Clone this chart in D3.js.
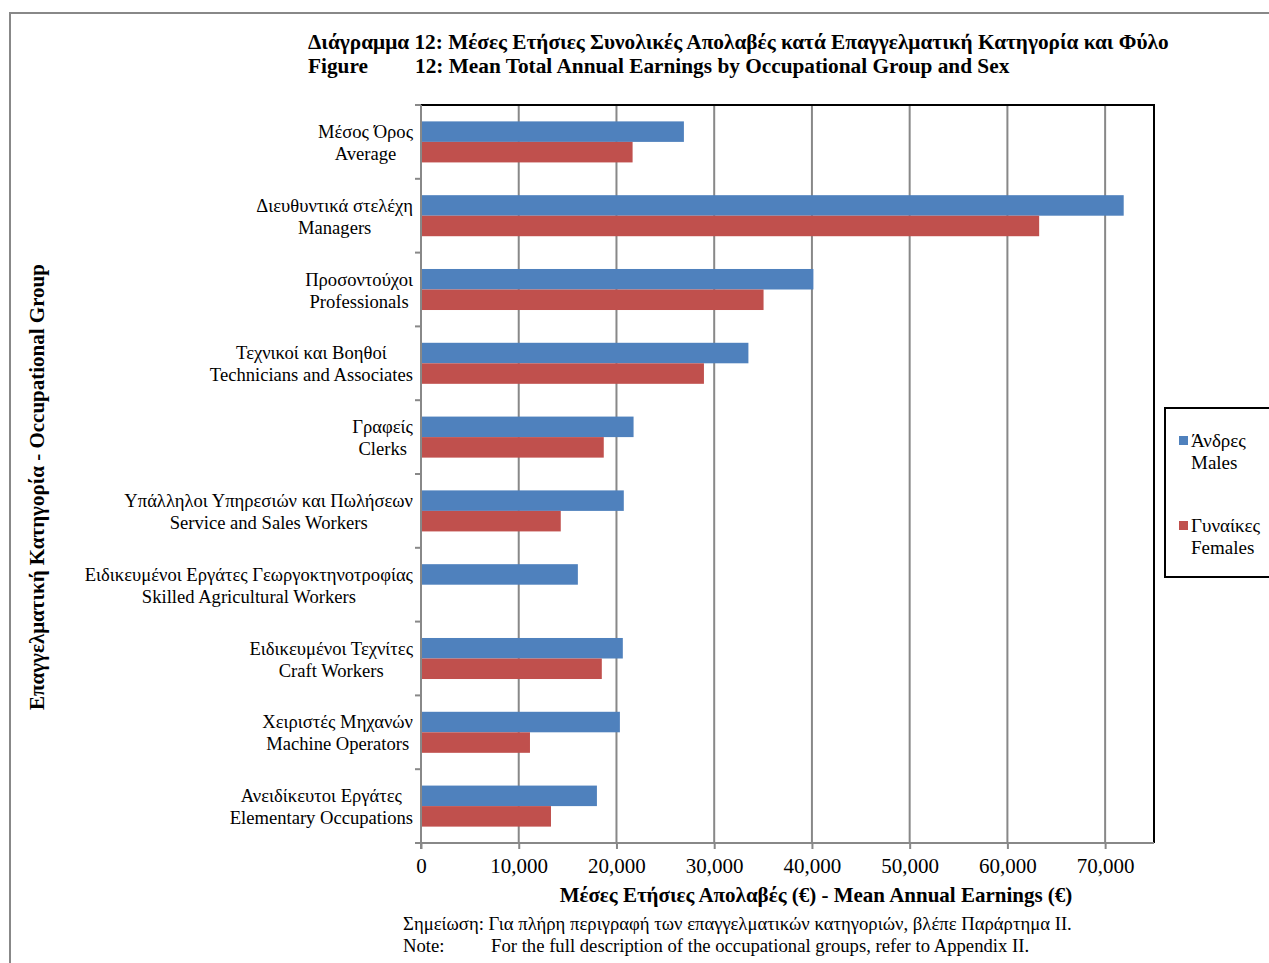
<!DOCTYPE html>
<html>
<head>
<meta charset="utf-8">
<script src="https://cdn.jsdelivr.net/npm/d3@7"></script>
<style>
  body { margin: 0; background: #fff; }
  text { font-family: "Liberation Serif", "Times New Roman", serif; fill: #000; }
  .title { font-weight: bold; font-size: 21.3px; }
  .axis-title { font-weight: bold; font-size: 21px; }
</style>
</head>
<body>
<svg width="1269" height="963"></svg>
<script>
  // data
  var categoriesGr = ["Μέσος Όρος", "Διευθυντικά στελέχη", "Προσοντούχοι", "Τεχνικοί και Βοηθοί",
    "Γραφείς", "Υπάλληλοι Υπηρεσιών και Πωλήσεων", "Ειδικευμένοι Εργάτες Γεωργοκτηνοτροφίας",
    "Ειδικευμένοι Τεχνίτες", "Χειριστές Μηχανών", "Ανειδίκευτοι Εργάτες"];
  var categoriesEn = ["Average", "Managers", "Professionals", "Technicians and Associates",
    "Clerks", "Service and Sales Workers", "Skilled Agricultural Workers",
    "Craft Workers", "Machine Operators", "Elementary Occupations"];
  var males = [26900, 71900, 40150, 33500, 21750, 20750, 16050, 20650, 20350, 18000];
  var females = [21650, 63250, 35050, 28950, 18700, 14300, null, 18500, 11150, 13300];
  var xTicks = [0, 10000, 20000, 30000, 40000, 50000, 60000, 70000];
  var seriesNames = [["Άνδρες", "Males"], ["Γυναίκες", "Females"]];
  var seriesColors = ["#4F81BD", "#C0504D"];

  var svg = d3.select("svg");

  // outer frame
  svg.append("rect")
    .attr("x", 10).attr("y", 13)
    .attr("width", 1300).attr("height", 1000)
    .attr("fill", "none").attr("stroke", "#888").attr("stroke-width", 2);

  var margin = { top: 105, left: 421, right: 1154, bottom: 843 };

  var xScale = d3.scaleLinear()
    .domain([0, 75000])
    .range([margin.left, margin.right]);

  var yScale = d3.scaleBand()
    .domain(d3.range(categoriesGr.length))
    .range([margin.top, margin.bottom])
    .paddingInner(0.444)
    .paddingOuter(0.222);

  var bar = yScale.bandwidth() / 2;

  // gridlines
  svg.append("g").selectAll("line")
    .data(xTicks.slice(1))
    .enter().append("line")
    .attr("x1", function (d) { return xScale(d); })
    .attr("x2", function (d) { return xScale(d); })
    .attr("y1", margin.top).attr("y2", margin.bottom)
    .attr("stroke", "#888").attr("stroke-width", 2);

  // plot border top / right
  svg.append("path")
    .attr("d", "M" + margin.left + "," + margin.top + "H" + margin.right + "V" + margin.bottom)
    .attr("fill", "none").attr("stroke", "#000").attr("stroke-width", 2);

  // bars
  var groups = svg.append("g").selectAll("g")
    .data(d3.range(categoriesGr.length))
    .enter().append("g");

  groups.append("rect")
    .attr("x", xScale(0))
    .attr("y", function (i) { return yScale(i); })
    .attr("width", function (i) { return xScale(males[i]) - xScale(0); })
    .attr("height", bar)
    .attr("fill", seriesColors[0]);

  groups.filter(function (i) { return females[i] != null; })
    .append("rect")
    .attr("x", xScale(0))
    .attr("y", function (i) { return yScale(i) + bar; })
    .attr("width", function (i) { return xScale(females[i]) - xScale(0); })
    .attr("height", bar)
    .attr("fill", seriesColors[1]);

  // x axis
  var xAxis = d3.axisBottom(xScale)
    .tickValues(xTicks)
    .tickSize(6)
    .tickPadding(9)
    .tickFormat(d3.format(","));

  var xAxisGroup = svg.append("g")
    .attr("transform", "translate(0," + margin.bottom + ")")
    .call(xAxis);
  xAxisGroup.select(".domain").attr("stroke", "#888").attr("stroke-width", 2)
    .attr("d", "M" + margin.left + ",0H" + margin.right);
  xAxisGroup.selectAll(".tick line").attr("stroke", "#888").attr("stroke-width", 2);
  xAxisGroup.selectAll(".tick text")
    .style("font-family", "Liberation Serif").style("font-size", "21px").attr("fill", "#000");

  // y axis (category boundaries)
  var boundaries = d3.range(categoriesGr.length + 1).map(function (i) {
    return margin.top + i * (margin.bottom - margin.top) / categoriesGr.length;
  });
  var yAxisGroup = svg.append("g");
  yAxisGroup.append("line")
    .attr("x1", margin.left).attr("x2", margin.left)
    .attr("y1", margin.top).attr("y2", margin.bottom + 6)
    .attr("stroke", "#888").attr("stroke-width", 2);
  yAxisGroup.selectAll(".yt")
    .data(boundaries)
    .enter().append("line")
    .attr("x1", margin.left - 6).attr("x2", margin.left)
    .attr("y1", function (d) { return d; }).attr("y2", function (d) { return d; })
    .attr("stroke", "#888").attr("stroke-width", 2);

  // category labels, two lines centred on each other, right edge at 413
  groups.each(function (i) {
    var cy = yScale(i) + bar;
    var g = d3.select(this).append("g");
    var t1 = g.append("text").text(categoriesGr[i])
      .attr("y", cy - 4).style("font-size", "18.6px").attr("text-anchor", "middle");
    var t2 = g.append("text").text(categoriesEn[i])
      .attr("y", cy + 18).style("font-size", "18.6px").attr("text-anchor", "middle");
    var w = Math.max(t1.node().getComputedTextLength(), t2.node().getComputedTextLength());
    t1.attr("x", 413 - w / 2);
    t2.attr("x", 413 - w / 2);
  });

  // title
  var title = svg.append("g").attr("class", "title");
  title.append("text").attr("x", 308).attr("y", 49)
    .text("Διάγραμμα 12: Μέσες Ετήσιες Συνολικές Απολαβές κατά Επαγγελματική Κατηγορία και Φύλο");
  title.append("text").attr("x", 308).attr("y", 73).text("Figure");
  title.append("text").attr("x", 415).attr("y", 73)
    .text("12: Mean Total Annual Earnings by Occupational Group and Sex");

  // axis titles
  svg.append("text").attr("class", "axis-title")
    .attr("x", 816).attr("y", 902).attr("text-anchor", "middle")
    .text("Μέσες Ετήσιες Απολαβές (€) - Mean Annual Earnings (€)");

  svg.append("text").attr("class", "axis-title")
    .attr("transform", "translate(44,487) rotate(-90)")
    .attr("text-anchor", "middle")
    .text("Επαγγελματική  Κατηγορία - Occupational Group");

  // legend
  var legend = svg.append("g");
  legend.append("rect")
    .attr("x", 1165).attr("y", 408).attr("width", 200).attr("height", 169)
    .attr("fill", "#fff").attr("stroke", "#000").attr("stroke-width", 2);
  seriesNames.forEach(function (names, k) {
    var y0 = 447 + k * 85;
    legend.append("rect")
      .attr("x", 1179).attr("y", y0 - 11).attr("width", 9).attr("height", 9)
      .attr("fill", seriesColors[k]);
    legend.append("text").attr("x", 1191).attr("y", y0)
      .style("font-size", "19px").text(names[0]);
    legend.append("text").attr("x", 1191).attr("y", y0 + 22)
      .style("font-size", "19px").text(names[1]);
  });

  // note
  var note = svg.append("g").style("font-size", "18.7px");
  note.append("text").attr("x", 403).attr("y", 930)
    .text("Σημείωση: Για πλήρη περιγραφή των επαγγελματικών κατηγοριών, βλέπε Παράρτημα ΙΙ.");
  note.append("text").attr("x", 403).attr("y", 952).text("Note:");
  note.append("text").attr("x", 491).attr("y", 952)
    .text("For the full description of the occupational groups, refer to Appendix II.");
</script>
</body>
</html>
